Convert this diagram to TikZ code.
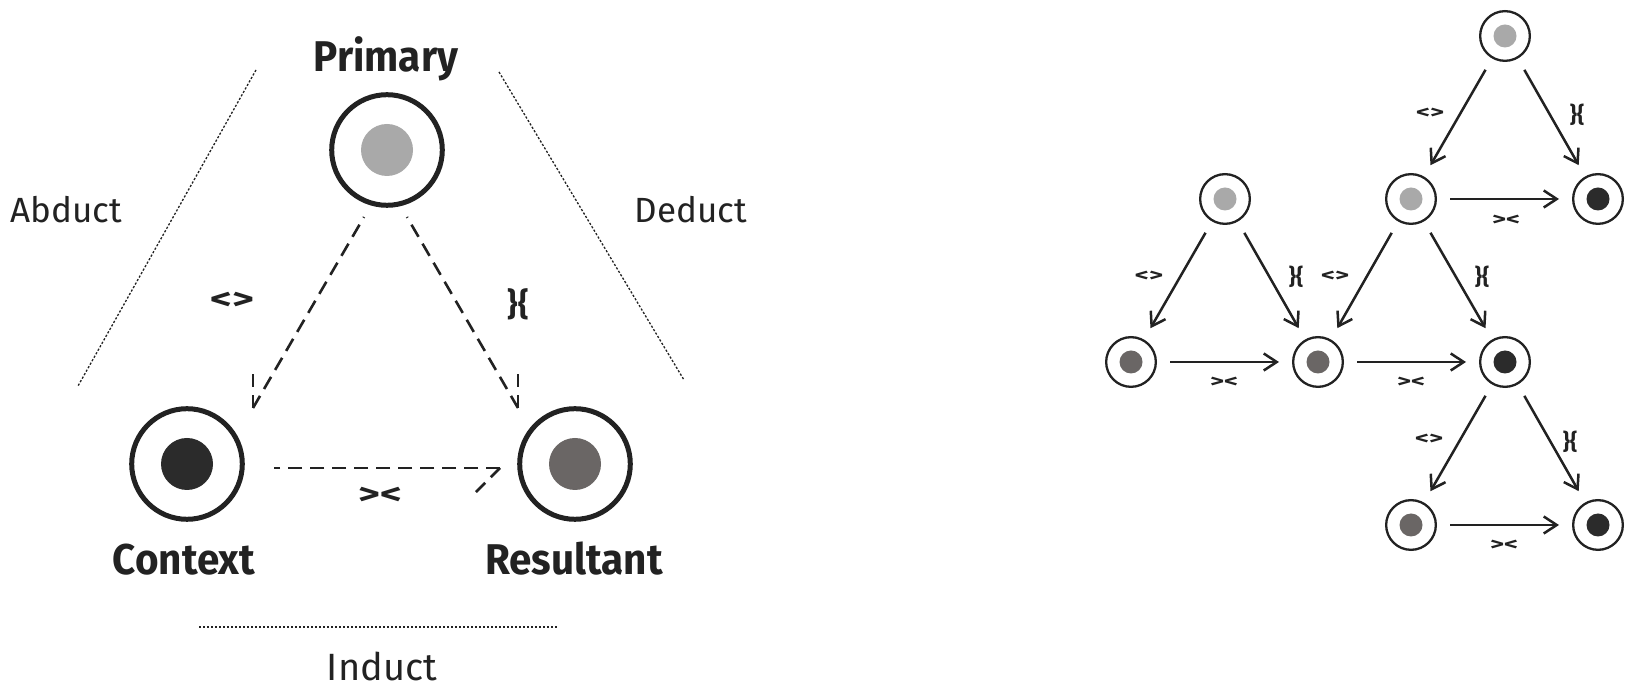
\documentclass[tikz,border=0pt]{standalone}
\usepackage{fontspec}
\setmainfont{Fira Sans}
\newfontfamily\headfont{Fira Sans}[FakeStretch=0.94]
\newfontfamily\symfont{Fira Sans}[FakeStretch=1.4]
\newfontfamily\symsmall{Fira Sans}[FakeStretch=1.5]
\usetikzlibrary{arrows.meta}
\definecolor{ink}{HTML}{222222}
\definecolor{dotlight}{HTML}{A9A9A9}
\definecolor{dotmid}{HTML}{6A6665}
\definecolor{dotdark}{HTML}{2B2B2B}
\begin{document}
\begin{tikzpicture}[x=1pt,y=1pt,
  bigring/.style={circle, draw=ink, line width=5pt, minimum size=110.6pt, inner sep=0pt, fill=white},
  smallring/.style={circle, draw=ink, line width=2.3pt, minimum size=49.7pt, inner sep=0pt, fill=white},
  headlbl/.style={font=\headfont\bfseries\fontsize{43}{43}\selectfont, text=ink, inner sep=0pt, anchor=base},
  thinlbl/.style={font=\fontsize{35}{35}\selectfont, text=ink, inner sep=0pt, anchor=base},
  symbig/.style={font=\symfont\bfseries\fontsize{30}{30}\selectfont, text=ink, inner sep=0pt},
  bracebig/.style={font=\bfseries\fontsize{32}{32}\selectfont, text=ink, inner sep=0pt},
  symsm/.style={font=\symsmall\bfseries\fontsize{18}{18}\selectfont, text=ink, inner sep=0pt},
  bracesm/.style={font=\bfseries\fontsize{22}{22}\selectfont, text=ink, inner sep=0pt},
  guide/.style={draw=ink, line width=1.3pt, dash pattern=on 2.2pt off 1.8pt},
  dashline/.style={draw=ink, line width=2.6pt, dash pattern=on 14pt off 8pt},
  barb/.style={draw=ink, line width=2.6pt, dash pattern=on 13pt off 8pt},
  sarrow/.style={draw=ink, line width=2.5pt, shorten <=13pt, shorten >=13pt, -{Straight Barb[length=13pt, width=17pt]}}
]
\fill[white] (0,0) rectangle (1628,685);
\useasboundingbox (0,0) rectangle (1628,685);

% ---------- left diagram ----------
\coordinate (gl1) at (256,615);
\coordinate (gl2) at (78,299);
\coordinate (gr1) at (499,613);
\coordinate (gr2) at (684,305);
\coordinate (gb1) at (199,58);
\coordinate (gb2) at (558,58);
\draw[guide] (gl1) -- (gl2);
\draw[guide] (gr1) -- (gr2);
\draw[guide] (gb1) -- (gb2);

\node[bigring] (P) at (387,535) {};
\node[bigring] (C) at (187,221) {};
\node[bigring] (R) at (575,221) {};
\fill[dotlight] (P.center) circle[radius=26];
\fill[dotdark] (C.center) circle[radius=26];
\fill[dotmid] (R.center) circle[radius=26];

% dashed connectors (drawn from the tip back to the source so a dash meets the tip)
\coordinate (tipPC) at ([shift={(66,56)}]C.center);
\coordinate (tipPR) at ([shift={(-57,56)}]R.center);
\coordinate (tipCR) at ([shift={(-75,-4)}]R.center);
\draw[dashline] (tipPC) -- ([shift={(-23,-67)}]P.center);
\draw[dashline] (tipPR) -- ([shift={(20,-67)}]P.center);
\draw[dashline] (tipCR) -- ([shift={(87,-4)}]C.center);
% dashed half-barbs of the open arrow heads
\draw[barb] (tipPC) -- ++(0,34);
\draw[barb] (tipPR) -- ++(0,34);
\draw[barb] (tipCR) -- ++(-25,-25);

\node[headlbl] (tP) at (386,613) {Primary};
\node[headlbl] (tC) at (184,110) {Context};
\node[headlbl] (tR) at (574,110) {Resultant};
\node[thinlbl] (tA) at (66,462) {Abduct};
\node[thinlbl] (tD) at (691,462) {Deduct};
\node[thinlbl, font=\fontsize{38}{38}\selectfont] (tI) at (382,4) {Induct};

\node[symbig] (s1) at (232,384) {<>};
\node[bracebig] (s2) at (518,381) {\}\{};
\node[symbig] (s3) at (380,189) {><};

% ---------- right diagram ----------
\node[smallring] (T) at (1505,649) {};
\node[smallring] (A) at (1225,486) {};
\node[smallring] (B) at (1411,486) {};
\node[smallring] (Cc) at (1598,486) {};
\node[smallring] (D) at (1131,323) {};
\node[smallring] (E) at (1318,323) {};
\node[smallring] (F) at (1505,323) {};
\node[smallring] (G) at (1411,160) {};
\node[smallring] (H) at (1598,160) {};
\foreach \n in {T,A,B} {\fill[dotlight] (\n.center) circle[radius=11.5];}
\foreach \n in {D,E,G} {\fill[dotmid] (\n.center) circle[radius=11.5];}
\foreach \n in {Cc,F,H} {\fill[dotdark] (\n.center) circle[radius=11.5];}

\draw[sarrow] (T) -- (B);
\draw[sarrow] (T) -- (Cc);
\draw[sarrow] (B) -- (Cc);
\draw[sarrow] (A) -- (D);
\draw[sarrow] (A) -- (E);
\draw[sarrow] (D) -- (E);
\draw[sarrow] (B) -- (E);
\draw[sarrow] (B) -- (F);
\draw[sarrow] (E) -- (F);
\draw[sarrow] (F) -- (G);
\draw[sarrow] (F) -- (H);
\draw[sarrow] (G) -- (H);

\node[symsm] (r1) at (1430,572) {<>};
\node[bracesm] (r2) at (1577,570) {\}\{};
\node[symsm] (r3) at (1506,465) {><};
\node[symsm] (r4) at (1149,409) {<>};
\node[bracesm] (r5) at (1296,408) {\}\{};
\node[symsm] (r6) at (1335,409) {<>};
\node[bracesm] (r7) at (1482,408) {\}\{};
\node[symsm] (r8) at (1224,303) {><};
\node[symsm] (r9) at (1411,303) {><};
\node[symsm] (r10) at (1429,246) {<>};
\node[bracesm] (r11) at (1570,243) {\}\{};
\node[symsm] (r12) at (1504,140) {><};
\end{tikzpicture}
\end{document}
